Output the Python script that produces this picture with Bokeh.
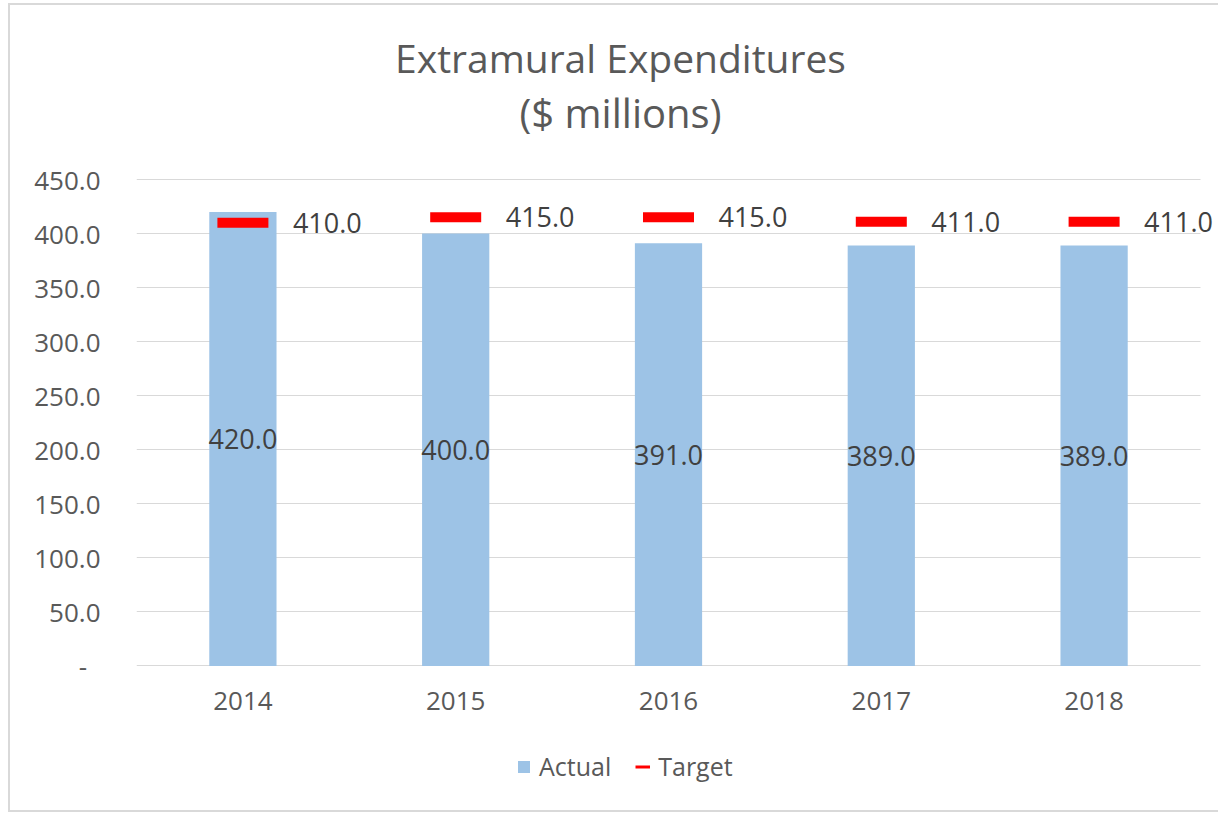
from bokeh.plotting import figure
from bokeh.models import (Range1d, ColumnDataSource, Label, Legend,
                          LegendItem, CustomJSTickFormatter, FixedTicker)
from bokeh.core.properties import value
from bokeh.embed import file_html
from bokeh.resources import INLINE

# ---- data ----
years = ["2014", "2015", "2016", "2017", "2018"]
actual = [420.0, 400.0, 391.0, 389.0, 389.0]
target = [410.0, 415.0, 415.0, 411.0, 411.0]
y_ticks = [0, 50, 100, 150, 200, 250, 300, 350, 400, 450]
title_line1 = "Extramural Expenditures"
title_line2 = "($ millions)"

FONT = "Open Sans"
GRAY = "#595959"
DARK = "#404040"
BAR = "#9DC3E6"
RED = "#FF0000"
GRID = "#D9D9D9"

xpos = list(range(len(years)))
src = ColumnDataSource(dict(
    x=xpos,
    actual=actual,
    target=target,
    mid=[a / 2 for a in actual],
    alabel=[f"{a:.1f}" for a in actual],
    tlabel=[f"{t:.1f}" for t in target],
))

# frame covers the canvas; 212 px per category, 484 px per 450 units
p = figure(width=1210, height=809,
           x_range=Range1d(-0.5, 4.594), y_range=Range1d(-137.4, 611.0),
           output_backend="svg", toolbar_location=None, title=None,
           min_border_left=126, min_border_right=0,
           min_border_top=0, min_border_bottom=0)
p.styles = {"margin-left": "8px", "margin-top": "3px",
            "border-left": "2px solid #D9D9D9", "border-top": "2px solid #D9D9D9",
            "border-bottom": "2px solid #D9D9D9", "box-sizing": "border-box"}
p.outline_line_color = None
p.background_fill_color = "white"
p.border_fill_color = "white"

p.xgrid.grid_line_color = None
p.ygrid.ticker = FixedTicker(ticks=y_ticks)
p.ygrid.grid_line_color = GRID
p.ygrid.grid_line_width = 1
p.ygrid.cross_bounds = (-0.5, 4.5)

p.yaxis.ticker = FixedTicker(ticks=y_ticks)
p.yaxis.formatter = CustomJSTickFormatter(
    code="return tick == 0 ? '-\u00a0\u00a0' : tick.toFixed(1);")
p.yaxis.axis_line_color = None
p.yaxis.major_tick_line_color = None
p.yaxis.minor_tick_line_color = None
p.yaxis.major_label_text_font = FONT
p.yaxis.major_label_text_font_size = "26px"
p.yaxis.major_label_text_color = GRAY
p.yaxis.major_label_standoff = 30

p.xaxis.fixed_location = 0
p.xaxis.ticker = FixedTicker(ticks=xpos)
p.xaxis.major_label_overrides = {i: y for i, y in zip(xpos, years)}
p.xaxis.axis_line_color = None
p.xaxis.major_tick_line_color = None
p.xaxis.minor_tick_line_color = None
p.xaxis.major_label_text_font = FONT
p.xaxis.major_label_text_font_size = "26px"
p.xaxis.major_label_text_color = GRAY
p.xaxis.major_label_standoff = 20

bars = p.vbar(x="x", top="actual", width=0.316, source=src,
              fill_color=BAR, line_color=None)
p.rect(x="x", y="target", width=51, height=10, width_units="screen",
       height_units="screen", source=src, fill_color=RED, line_color=None)
# legend-only renderer for the target dash (draws nothing in the plot)
dash = p.line(x=[0, 0], y=[float("nan"), float("nan")], line_color=RED,
              line_width=3)

p.text(x="x", y="mid", text="alabel", source=src, text_align="center",
       text_baseline="middle", text_font=value(FONT), text_font_size="27px",
       text_color=DARK)
p.text(x="x", y="target", text="tlabel", source=src, x_offset=50,
       text_align="left", text_baseline="middle", text_font=value(FONT),
       text_font_size="27px", text_color=DARK)

p.add_layout(Label(x=484, y=757, x_units="screen", y_units="screen",
                   text=title_line1, text_align="center", text_baseline="middle",
                   text_font=FONT, text_font_size="39px", text_color=GRAY))
p.add_layout(Label(x=484, y=702, x_units="screen", y_units="screen",
                   text=title_line2, text_align="center", text_baseline="middle",
                   text_font=FONT, text_font_size="40px", text_color=GRAY))

legend = Legend(items=[LegendItem(label="Actual", renderers=[bars]),
                       LegendItem(label="Target", renderers=[dash])],
                orientation="horizontal", location=(380, 31),
                glyph_width=15, glyph_height=15, label_standoff=8, spacing=24,
                padding=0, margin=0, border_line_color=None,
                background_fill_alpha=0, label_text_font=FONT,
                label_text_font_size="25px", label_text_color=GRAY)
p.add_layout(legend, "center")

open("out.html", "w").write(file_html(p, INLINE))
